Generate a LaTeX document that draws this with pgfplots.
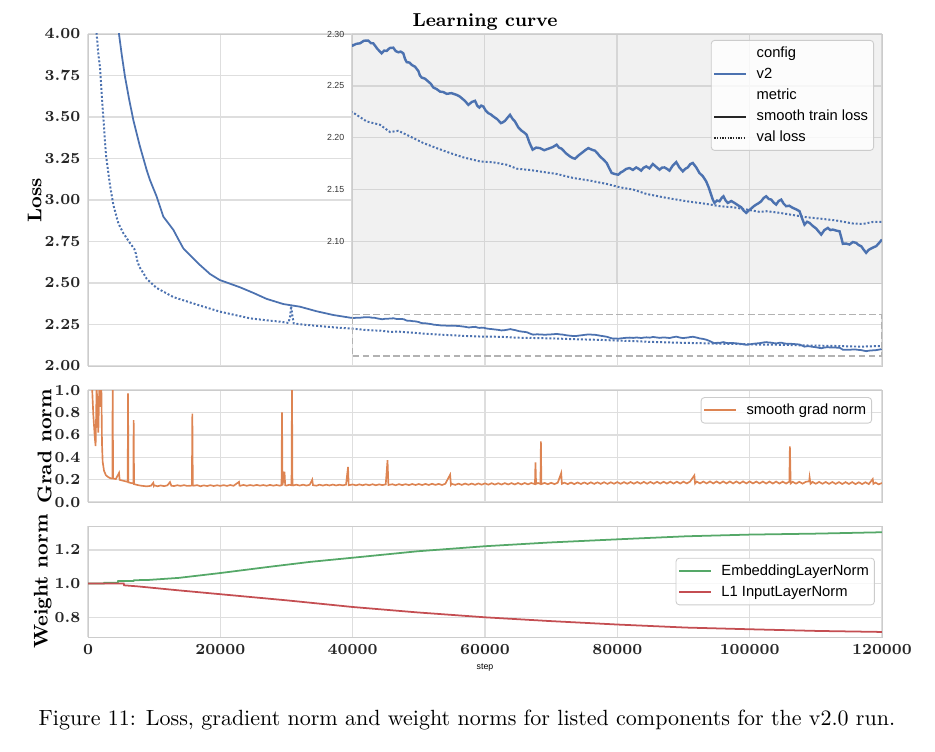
\documentclass[border=0pt]{standalone}
\usepackage{pgfplots}
\pgfplotsset{compat=1.18}
\usepackage{pgfplotstable}
\usepackage{fontspec}
\newfontfamily\lsans{Liberation Sans}
\definecolor{sblue}{HTML}{4C72B0}
\definecolor{sorange}{HTML}{DD8452}
\definecolor{sgreen}{HTML}{55A868}
\definecolor{sred}{HTML}{C44E52}
\definecolor{gridc}{HTML}{DEDEDE}
\definecolor{edgec}{HTML}{CCCCCC}
\definecolor{insetbg}{HTML}{F1F1F1}
\definecolor{insetgrid}{HTML}{D6D6D6}

\pgfplotstableread{
step loss
3000 4.85
3800 4.38
4685 4.000
5100 3.875
5590 3.743
6200 3.610
6850 3.482
7800 3.330
8870 3.180
9370 3.120
10380 3.020
11380 2.900
12140 2.860
12900 2.820
13700 2.760
14400 2.709
15600 2.660
16930 2.608
18440 2.554
19900 2.518
22970 2.474
25000 2.440
27000 2.404
29520 2.373
32040 2.357
34500 2.330
37070 2.307
39600 2.291
40100 2.2888
40650 2.2905
41200 2.2910
41800 2.2935
42460 2.2936
42850 2.2912
43210 2.2910
43850 2.2855
44480 2.2814
44850 2.2840
45230 2.2837
45700 2.2865
46230 2.2868
46600 2.2835
46990 2.2824
47350 2.2830
47740 2.2814
48000 2.2760
48260 2.2728
48650 2.2725
49010 2.2702
49500 2.2685
50010 2.2644
50250 2.2600
50520 2.2580
51000 2.2570
51520 2.2541
51900 2.2520
52270 2.2484
52750 2.2470
53280 2.2445
53800 2.2440
54290 2.2423
55000 2.2430
55800 2.2413
56200 2.2400
56550 2.2382
57050 2.2355
57560 2.2317
58100 2.2345
58570 2.2356
58900 2.2310
59210 2.2291
59500 2.2310
59820 2.2301
60200 2.2260
60570 2.2237
60950 2.2225
61330 2.2205
61900 2.2180
62490 2.2141
62800 2.2150
63090 2.2163
63500 2.2195
63850 2.2221
64200 2.2185
64600 2.2157
65100 2.2100
65610 2.2067
66000 2.2050
66360 2.2029
66800 2.1950
67270 2.1885
67800 2.1905
68380 2.1900
69000 2.1880
69630 2.1894
70300 2.1910
70890 2.1933
71250 2.1905
71650 2.1894
72300 2.1850
72900 2.1820
73300 2.1805
73660 2.1798
74200 2.1830
74670 2.1853
75200 2.1880
75670 2.1900
76200 2.1885
76680 2.1875
77050 2.1850
77430 2.1820
77950 2.1790
78440 2.1757
78800 2.1710
79200 2.1660
79700 2.1650
80200 2.1644
80550 2.1665
80880 2.1676
81400 2.1700
81890 2.1708
82400 2.1690
82900 2.1714
83300 2.1700
83650 2.1683
84000 2.1710
84410 2.1724
84900 2.1705
85410 2.1747
85900 2.1720
86420 2.1692
86800 2.1712
87170 2.1714
87550 2.1700
87920 2.1683
88400 2.1730
88940 2.1766
89400 2.1715
89940 2.1676
90300 2.1700
90690 2.1714
91050 2.1745
91440 2.1757
91950 2.1715
92450 2.1660
92950 2.1630
93460 2.1580
93850 2.1520
94210 2.1452
94450 2.1405
94720 2.1372
95100 2.1395
95470 2.1388
95800 2.1420
96070 2.1436
96400 2.1395
96730 2.1372
97250 2.1390
97740 2.1372
98250 2.1350
98750 2.1330
99100 2.1300
99500 2.1276
99900 2.1300
100260 2.1318
100650 2.1340
101010 2.1356
101400 2.1370
101770 2.1388
102150 2.1420
102520 2.1436
102900 2.1410
103280 2.1404
103650 2.1375
104030 2.1356
104400 2.1390
104790 2.1404
105150 2.1365
105540 2.1340
106000 2.1345
106540 2.1324
107050 2.1310
107550 2.1292
107900 2.1230
108300 2.1163
108700 2.1190
109060 2.1180
109550 2.1150
110070 2.1125
110450 2.1095
110830 2.1067
111300 2.1110
111830 2.1131
112200 2.1110
112580 2.1115
113100 2.1105
113590 2.1099
113850 2.1040
114090 2.0978
114600 2.0980
115100 2.0971
115600 2.0995
116100 2.0987
116500 2.0965
116860 2.0955
117250 2.0920
117610 2.0891
118000 2.0920
118370 2.0933
118750 2.0945
119120 2.0955
119550 2.0985
120000 2.1019
}\trainloss

\pgfplotstableread{
step loss
600 5.2
1000 4.35
1310 4.00
1560 3.88
1810 3.80
2310 3.50
2720 3.27
3320 3.09
3830 2.97
4580 2.86
5340 2.80
6350 2.74
7000 2.705
7250 2.675
7500 2.625
7800 2.595
8360 2.56
8870 2.525
10380 2.470
12900 2.415
16430 2.370
19950 2.327
24480 2.287
27000 2.275
29020 2.267
30300 2.259
30550 2.300
30700 2.361
30900 2.300
31100 2.256
32040 2.251
34500 2.242
37070 2.233
40300 2.2237
42210 2.2157
44230 2.2125
45740 2.2055
46990 2.2067
48750 2.2013
50770 2.1949
52780 2.1900
54790 2.1853
56800 2.1811
59320 2.1772
61330 2.1763
63350 2.1740
64860 2.1702
66870 2.1689
68880 2.1670
70890 2.1651
73410 2.1612
75920 2.1587
78440 2.1555
80450 2.1522
82460 2.1500
84470 2.1458
87500 2.1420
90520 2.1388
93540 2.1362
95550 2.1340
97560 2.1330
99570 2.1308
101590 2.1285
102590 2.1292
104600 2.1276
106110 2.1260
108620 2.1234
110640 2.1221
113150 2.1202
115660 2.1173
117170 2.1170
118680 2.1189
120000 2.1189
}\valloss

\pgfplotstableread{
step g
600 1.05
800 0.78
1050 0.56
1150 0.50
1310 1.05
1450 0.75
1560 0.62
1710 1.05
1800 0.85
1914 0.92
2015 1.05
2116 0.52
2216 0.36
2418 0.28
2700 0.24
3000 0.225
3400 0.212
3680 0.21
3730 1.1
3790 0.21
4200 0.205
4690 0.26
4780 0.198
5340 0.19
6000 0.18
6050 0.97
6110 0.176
6500 0.17
6850 0.166
6900 0.732
6960 0.16
7500 0.152
8000 0.146
8870 0.140
9500 0.145
9870 0.172
9950 0.145
10000 0.150
10500 0.141
11000 0.148
11500 0.142
12000 0.149
12390 0.178
12600 0.145
13000 0.143
13500 0.150
14000 0.144
14500 0.151
15000 0.144
15700 0.147
15770 0.79
15840 0.148
16000 0.146
16500 0.151
17000 0.141
17500 0.149
18000 0.143
18500 0.151
19000 0.143
19500 0.150
20000 0.144
20500 0.151
21000 0.144
21500 0.152
22000 0.145
22820 0.18
22900 0.147
23000 0.145
23500 0.153
24000 0.145
24500 0.152
25000 0.146
25500 0.153
26000 0.146
26500 0.152
27000 0.145
27500 0.153
28000 0.146
28500 0.152
29000 0.146
29250 0.150
29320 0.80
29400 0.150
29700 0.27
29800 0.150
30000 0.147
30400 0.154
30760 0.150
30830 1.05
30900 0.152
31000 0.148
31500 0.155
32000 0.147
32500 0.155
33000 0.147
33500 0.154
33890 0.20
34000 0.151
34500 0.146
35000 0.155
35500 0.147
36000 0.155
36500 0.148
37000 0.156
37500 0.148
38000 0.155
38500 0.149
39000 0.156
39300 0.313
39400 0.150
40000 0.157
40500 0.149
41000 0.158
41500 0.150
42000 0.158
42500 0.150
43000 0.159
43500 0.150
44000 0.158
44500 0.151
45000 0.158
45270 0.373
45400 0.152
46000 0.159
46500 0.150
47000 0.160
47500 0.151
48000 0.160
48500 0.151
49000 0.161
49500 0.152
50000 0.161
50500 0.152
51000 0.162
51500 0.152
52000 0.163
52500 0.153
53000 0.162
53500 0.152
54000 0.163
54730 0.244
54850 0.153
55000 0.162
55500 0.153
56000 0.164
56500 0.153
57000 0.165
57500 0.154
58000 0.165
58500 0.154
59000 0.166
59500 0.155
60000 0.167
60500 0.155
61000 0.168
61500 0.156
62000 0.168
62500 0.156
63000 0.169
63500 0.157
64000 0.169
64500 0.157
65000 0.170
65500 0.157
66000 0.170
66500 0.158
67000 0.170
67550 0.160
67630 0.355
67720 0.162
68000 0.170
68380 0.162
68450 0.542
68520 0.160
69000 0.171
69500 0.159
70000 0.172
70500 0.160
71000 0.173
71520 0.259
71620 0.163
72000 0.173
72500 0.160
73000 0.174
73500 0.160
74000 0.175
74500 0.161
75000 0.175
75500 0.161
76000 0.176
76500 0.162
77000 0.176
77500 0.162
78000 0.177
78500 0.162
79000 0.177
79500 0.163
80000 0.178
80500 0.163
81000 0.178
81500 0.163
82000 0.179
82500 0.164
83000 0.179
83500 0.164
84000 0.180
84500 0.164
85000 0.180
85500 0.164
86000 0.181
86500 0.165
87000 0.181
87500 0.165
88000 0.182
88500 0.165
89000 0.182
89500 0.165
90000 0.182
90500 0.166
91000 0.183
91640 0.238
91750 0.166
92000 0.183
92500 0.166
93000 0.183
93500 0.166
94000 0.184
94500 0.166
95000 0.184
95500 0.166
96000 0.184
96500 0.166
97000 0.184
97500 0.166
98000 0.184
98500 0.166
99000 0.184
99500 0.166
100000 0.184
100500 0.166
101000 0.183
101500 0.166
102000 0.183
102500 0.165
103000 0.183
103500 0.165
104000 0.183
104500 0.165
105000 0.182
105500 0.165
106000 0.182
106080 0.497
106200 0.166
106500 0.181
107000 0.164
107500 0.181
108000 0.164
108500 0.181
109000 0.185
109060 0.22
109200 0.163
109500 0.180
110000 0.163
110500 0.180
111000 0.163
111500 0.179
112000 0.162
112500 0.179
113000 0.162
113500 0.178
114000 0.161
114500 0.178
115000 0.161
115500 0.178
116000 0.160
116500 0.177
117000 0.160
117500 0.177
118000 0.160
118600 0.205
118700 0.162
119000 0.174
119500 0.158
120000 0.170
}\gradnorm

\pgfplotstableread{
step w
0 1.000
2400 1.000
2450 1.005
4500 1.005
4550 1.015
6900 1.016
6950 1.020
9200 1.022
13700 1.034
20030 1.063
27250 1.099
33560 1.129
40060 1.154
49800 1.192
60000 1.222
69650 1.244
80030 1.263
90400 1.281
99970 1.291
110260 1.297
120000 1.305
}\embnorm

\pgfplotstableread{
step w
0 1.000
5400 1.000
5450 0.990
7400 0.984
13700 0.960
20030 0.937
29950 0.901
40060 0.861
49800 0.829
60000 0.800
69650 0.778
80030 0.757
90400 0.739
99970 0.729
110260 0.719
120000 0.713
}\inpnorm

\pgfplotsset{
  lgimg/.style={legend image code/.code={\draw[##1, line width=0.9pt] (0cm,0cm) -- (0.5cm,0cm);}},
  sblegend/.style={
    font=\lsans\fontsize{6.7}{8}\selectfont, draw=edgec, fill=white,
    fill opacity=0.8, text opacity=1, rounded corners=1.5pt,
    inner sep=1pt, row sep=0pt, column sep=3pt,
    nodes={inner sep=1.5pt, text height=5.2pt, text depth=1.4pt},
  },
  base/.style={
    scale only axis,
    anchor=north west,
    width=360.9pt,
    xmin=0, xmax=120000,
    axis line style={edgec},
    grid=major, grid style={gridc, line width=0.6pt},
    major tick length=0pt,
    xtick={0,20000,40000,60000,80000,100000,120000},
    scaled x ticks=false,
    tick label style={font=\boldmath\fontsize{7}{8}\selectfont, text=black!85},
    xticklabel style={/pgf/number format/.cd, fixed, precision=0, set thousands separator={}},
    ylabel style={font=\bfseries\fontsize{9}{10}\selectfont},
    ylabel shift=-5.5pt,
    legend cell align=left,
    lgimg,
  },
}

\begin{document}
\begin{tikzpicture}
\useasboundingbox (0,0) rectangle (425pt,-341.4pt);

% ---- main loss axis
\begin{axis}[base,
  at={(40pt,-15.45pt)}, height=150.9pt,
  ymin=2, ymax=4,
  ytick={2,2.25,2.5,2.75,3,3.25,3.5,3.75,4},
  xticklabels={},
  yticklabel style={/pgf/number format/.cd, fixed, fixed zerofill, precision=2},
  ylabel={Loss},
  title={Learning curve},
  every axis title shift=0pt,
  title style={font=\bfseries\fontsize{8.5}{10}\selectfont, at={(0.5,1)}, anchor=base, yshift=3.2pt},
]
\addplot[sblue, line width=0.8pt] table[x=step, y=loss] {\trainloss};
\addplot[sblue, line width=0.9pt, dash pattern=on 0.9pt off 0.9pt] table[x=step, y=loss] {\valloss};
\addplot[black!30, line width=0.6pt, dash pattern=on 3pt off 1.6pt] coordinates {(40000,2.06) (120000,2.06) (120000,2.31) (40000,2.31) (40000,2.06)};
\end{axis}

% ---- inset
\begin{axis}[
  scale only axis, anchor=north west,
  at={(160pt,-15.45pt)}, width=240.9pt, height=113.2pt,
  xmin=40000, xmax=120000, ymin=2.06, ymax=2.30,
  xtick={40000,60000,80000,100000,120000}, xticklabels={},
  scaled x ticks=false,
  ytick={2.10,2.15,2.20,2.25,2.30},
  grid=major, grid style={insetgrid, line width=0.6pt},
  major tick length=0pt,
  axis background/.style={fill=insetbg},
  axis line style={edgec},
  yticklabel style={font=\lsans\fontsize{4}{5}\selectfont, text=black!80,
    /pgf/number format/.cd, fixed, fixed zerofill, precision=2, assume math mode=true},
  legend cell align=left,
  lgimg,
  legend style={sblegend, at={(0.985,0.976)}, anchor=north east},
]
\addlegendimage{empty legend}\addlegendentry{config}
\addlegendimage{sblue}\addlegendentry{v2}
\addlegendimage{empty legend}\addlegendentry{metric}
\addlegendimage{black!85}\addlegendentry{smooth train loss}
\addlegendimage{black!85, dash pattern=on 0.6pt off 0.6pt}\addlegendentry{val loss}
\addplot[sblue, line width=1.1pt, forget plot] table[x=step, y=loss] {\trainloss};
\addplot[sblue, line width=0.9pt, dash pattern=on 0.9pt off 0.9pt, forget plot] table[x=step, y=loss] {\valloss};
\end{axis}

% ---- grad norm
\begin{axis}[base,
  at={(40pt,-177.3pt)}, height=50.9pt,
  ymin=0, ymax=1,
  ytick={0,0.2,0.4,0.6,0.8,1.0},
  xticklabels={},
  yticklabel style={/pgf/number format/.cd, fixed, fixed zerofill, precision=1},
  ylabel={Grad norm},
  legend style={sblegend, at={(0.9875,0.937)}, anchor=north east},
]
\addplot[sorange, line width=0.75pt] table[x=step, y=g] {\gradnorm};
\addlegendentry{smooth grad norm}
\end{axis}

% ---- weight norm
\begin{axis}[base,
  at={(40pt,-239.1pt)}, height=50.45pt,
  ymin=0.683, ymax=1.342,
  ytick={0.8,1.0,1.2},
  yticklabel style={/pgf/number format/.cd, fixed, fixed zerofill, precision=1},
  ylabel={Weight norm},
  xlabel={step},
  xlabel style={font=\lsans\fontsize{4}{5}\selectfont, yshift=2.8pt},
  legend style={sblegend, at={(0.991,0.5)}, anchor=east},
]
\addplot[sgreen, line width=0.8pt] table[x=step, y=w] {\embnorm};
\addlegendentry{EmbeddingLayerNorm}
\addplot[sred, line width=0.8pt] table[x=step, y=w] {\inpnorm};
\addlegendentry{L1 InputLayerNorm}
\end{axis}

\node[font=\fontsize{10}{12}\selectfont] at (212.2pt,-327.3pt) {Figure 11: Loss, gradient norm and weight norms for listed components for the v2.0 run.};
\end{tikzpicture}
\end{document}
